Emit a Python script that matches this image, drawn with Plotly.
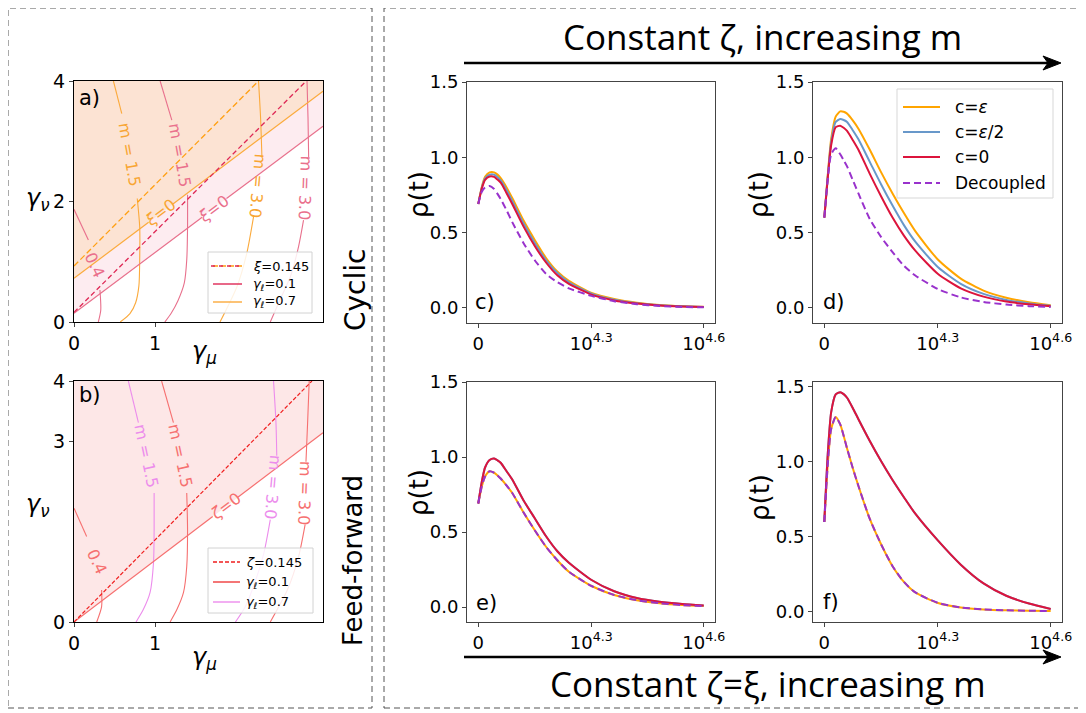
import plotly.graph_objects as go

# page body has an 8px margin: the figure is sized/positioned to compensate
OFF = 8
W, H = 1086 - OFF, 713 - OFF

# ---------------- panels c-f : rho(t) ----------------
TIME = [0, 600, 1200, 2000, 2800, 3400, 4000, 5000, 6000, 8000, 10000, 12000, 14000, 16000,
        20000, 24000, 28000, 32000, 36000, 39811]
X_TICK_VALS = [0, 19953, 39811]
X_TICK_TEXT = ["0", "10<sup>4.3</sup>", "10<sup>4.6</sup>"]
Y_TICK_VALS = [0.0, 0.5, 1.0, 1.5]
SERIES = ["c=<i>ε</i>", "c=<i>ε</i>/2", "c=0", "Decoupled"]

C_ORANGE = [0.69, 0.80, 0.87, 0.90, 0.90, 0.885, 0.86, 0.80, 0.73, 0.58, 0.45, 0.33, 0.24, 0.18, 0.10, 0.06, 0.035, 0.02, 0.012, 0.008]
C_BLUE = [0.69, 0.795, 0.86, 0.885, 0.885, 0.868, 0.845, 0.782, 0.71, 0.56, 0.43, 0.315, 0.23, 0.17, 0.095, 0.055, 0.032, 0.018, 0.011, 0.007]
C_RED = [0.69, 0.79, 0.85, 0.873, 0.87, 0.852, 0.83, 0.762, 0.69, 0.54, 0.41, 0.30, 0.215, 0.16, 0.088, 0.05, 0.03, 0.017, 0.01, 0.006]
C_DEC = [0.69, 0.77, 0.80, 0.81, 0.79, 0.757, 0.72, 0.648, 0.57, 0.43, 0.315, 0.225, 0.17, 0.13, 0.08, 0.045, 0.025, 0.013, 0.007, 0.004]

D_ORANGE = [0.60, 0.88, 1.12, 1.27, 1.305, 1.302, 1.29, 1.245, 1.19, 1.05, 0.90, 0.76, 0.63, 0.51, 0.32, 0.195, 0.115, 0.068, 0.038, 0.018]
D_BLUE = [0.60, 0.87, 1.10, 1.235, 1.255, 1.248, 1.235, 1.18, 1.12, 0.97, 0.82, 0.68, 0.55, 0.44, 0.27, 0.16, 0.093, 0.053, 0.03, 0.014]
D_RED = [0.60, 0.86, 1.08, 1.20, 1.21, 1.196, 1.175, 1.115, 1.05, 0.89, 0.74, 0.60, 0.48, 0.38, 0.225, 0.13, 0.075, 0.042, 0.024, 0.011]
D_DEC = [0.60, 0.85, 1.02, 1.06, 1.02, 0.98, 0.94, 0.85, 0.76, 0.59, 0.47, 0.37, 0.28, 0.215, 0.125, 0.07, 0.04, 0.022, 0.012, 0.006]

E_ORANGE = [0.69, 0.80, 0.87, 0.905, 0.895, 0.877, 0.855, 0.81, 0.76, 0.63, 0.51, 0.40, 0.31, 0.235, 0.14, 0.08, 0.045, 0.025, 0.013, 0.006]
E_BLUE = [0.69, 0.83, 0.93, 0.98, 0.99, 0.978, 0.96, 0.905, 0.85, 0.71, 0.59, 0.47, 0.37, 0.295, 0.18, 0.105, 0.06, 0.035, 0.02, 0.01]
E_RED = [0.69, 0.83, 0.93, 0.98, 0.99, 0.978, 0.96, 0.905, 0.85, 0.71, 0.59, 0.47, 0.37, 0.295, 0.18, 0.105, 0.06, 0.035, 0.02, 0.01]
E_DEC = [0.69, 0.80, 0.87, 0.905, 0.895, 0.877, 0.855, 0.81, 0.76, 0.63, 0.51, 0.40, 0.31, 0.235, 0.14, 0.08, 0.045, 0.025, 0.013, 0.006]

F_ORANGE = [0.60, 0.98, 1.22, 1.30, 1.25, 1.175, 1.09, 0.96, 0.84, 0.62, 0.45, 0.305, 0.20, 0.13, 0.06, 0.03, 0.017, 0.011, 0.008, 0.006]
F_BLUE = [0.60, 1.05, 1.33, 1.45, 1.465, 1.452, 1.428, 1.36, 1.285, 1.14, 1.005, 0.88, 0.765, 0.655, 0.475, 0.315, 0.19, 0.108, 0.056, 0.02]
F_RED = [0.60, 1.05, 1.33, 1.45, 1.465, 1.452, 1.428, 1.36, 1.285, 1.14, 1.005, 0.88, 0.765, 0.655, 0.475, 0.315, 0.19, 0.108, 0.056, 0.02]
F_DEC = [0.60, 0.98, 1.22, 1.30, 1.25, 1.175, 1.09, 0.96, 0.84, 0.62, 0.45, 0.305, 0.20, 0.13, 0.06, 0.03, 0.017, 0.011, 0.008, 0.006]

# ---------------- panel a (cyclic) : gamma_mu vs gamma_nu ----------------
A_FILL_PINK_MU = [0, 3.07, 3.07, 0]
A_FILL_PINK_NU = [0.144, 3.25, 4, 4]
A_FILL_ORANGE_MU = [0, 3.07, 3.07, 0]
A_FILL_ORANGE_NU = [0.725, 3.83, 4, 4]
A_XI0_PINK_MU = [0.0, 1.58, None, 1.88, 3.07]
A_XI0_PINK_NU = [0.144, 1.74, None, 2.05, 3.25]
A_XI0_ORANGE_MU = [0.0, 0.92, None, 1.22, 3.07]
A_XI0_ORANGE_NU = [0.725, 1.656, None, 1.96, 3.83]
A_XI145_ORANGE_MU = [0.0, 2.275]
A_XI145_ORANGE_NU = [0.93, 4.0]
A_XI145_PINK_MU = [0.0, 2.864]
A_XI145_PINK_NU = [0.16, 4.0]
A_M15_ORANGE_MU = [0.486, 0.589, None, 0.78, 0.81, 0.81, 0.80, 0.76, 0.69, 0.57]
A_M15_ORANGE_NU = [4.0, 3.46, None, 2.05, 1.58, 1.03, 0.60, 0.32, 0.14, 0.0]
A_M15_PINK_MU = [1.062, 1.206, None, 1.40, 1.40, 1.39, 1.36, 1.28, 1.20, 1.12]
A_M15_PINK_NU = [4.0, 3.35, None, 2.11, 1.58, 1.03, 0.65, 0.35, 0.15, 0.0]
A_M30_ORANGE_MU = [2.275, 2.30, 2.317, None, 2.214, 2.13, 2.01, 1.80]
A_M30_ORANGE_NU = [4.0, 3.4, 2.74, None, 1.75, 1.14, 0.59, 0.0]
A_M30_PINK_MU = [2.873, 2.885, 2.893, None, 2.83, 2.77, 2.667, 2.54, 2.42]
A_M30_PINK_NU = [4.0, 3.4, 2.74, None, 1.69, 1.26, 0.75, 0.37, 0.0]
A_M04_PINK_MU = [0.0, 0.177, None, 0.32, 0.33, 0.30]
A_M04_PINK_NU = [1.87, 1.36, None, 0.53, 0.2, 0.0]

# ---------------- panel b (feed-forward) ----------------
B_FILL_MU = [0, 3.07, 3.07, 0]
B_FILL_NU = [0, 3.14, 4, 4]
B_ZETA0_MU = [0.0, 1.71, None, 2.02, 3.07]
B_ZETA0_NU = [0.0, 1.75, None, 2.07, 3.14]
B_ZETA145_MU = [0.0, 2.934]
B_ZETA145_NU = [0.0, 4.0]
B_M15_VIOLET_MU = [0.67, 0.794, None, 0.988, 0.988, 0.98, 0.938, 0.856, 0.765]
B_M15_VIOLET_NU = [4.0, 3.31, None, 2.14, 1.53, 0.98, 0.49, 0.21, 0.0]
B_M15_RED_MU = [1.08, 1.226, None, 1.39, 1.40, 1.39, 1.35, 1.27, 1.185]
B_M15_RED_NU = [4.0, 3.31, None, 2.14, 1.53, 0.92, 0.49, 0.21, 0.0]
B_M30_VIOLET_MU = [2.46, 2.49, 2.50, None, 2.42, 2.34, 2.21, 2.11, 1.99]
B_M30_VIOLET_NU = [4.0, 3.31, 2.76, None, 1.70, 1.14, 0.58, 0.25, 0.0]
B_M30_RED_MU = [2.90, 2.88, 2.86, None, 2.85, 2.77, 2.63, 2.42]
B_M30_RED_NU = [4.0, 3.3, 2.66, None, 1.62, 1.09, 0.53, 0.0]
B_M04_RED_MU = [0.0, 0.156, None, 0.34, 0.34, 0.28]
B_M04_RED_NU = [1.89, 1.42, None, 0.53, 0.25, 0.0]

# colours
ORANGE = "rgb(255,165,0)"
BLUE = "rgb(104,152,202)"
RED = "rgb(220,20,60)"
PURPLE = "rgb(153,50,204)"
A_OR_LINE = "rgb(251,170,60)"
A_PK_LINE = "rgb(232,112,140)"
A_PK_DASH = "rgb(222,40,85)"
A_OR_DASH = "rgb(255,160,20)"
A_OR_TXT = "rgb(248,165,50)"
A_PK_TXT = "rgb(234,112,140)"
A_PK_FILL = "rgb(253,236,240)"
A_OR_FILL = "rgb(252,227,211)"
B_RED_LINE = "rgb(246,112,112)"
B_RED_DASH = "rgb(240,30,30)"
B_VIOLET = "rgb(236,140,236)"
B_FILL = "rgb(253,231,231)"
FONT = "DejaVu Sans"

fig = go.Figure()


def px(v):
    return (v - OFF) / W


def py(v):
    return 1 - (v - OFF) / H


def line_trace(ax, xs, ys, color, width=1.1, dash=None, shape="spline"):
    fig.add_trace(go.Scatter(x=xs, y=ys, mode="lines", connectgaps=False,
                             line=dict(color=color, width=width, dash=dash, shape=shape, smoothing=0.7),
                             xaxis="x" + ax, yaxis="y" + ax, hoverinfo="skip", showlegend=False))


def fill_trace(ax, xs, ys, color):
    fig.add_trace(go.Scatter(x=xs, y=ys, mode="lines", fill="toself", fillcolor=color,
                             line=dict(width=0, color=color), xaxis="x" + ax, yaxis="y" + ax,
                             hoverinfo="skip", showlegend=False))


# panel a
fill_trace("", A_FILL_PINK_MU, A_FILL_PINK_NU, A_PK_FILL)
fill_trace("", A_FILL_ORANGE_MU, A_FILL_ORANGE_NU, A_OR_FILL)
line_trace("", A_M15_ORANGE_MU, A_M15_ORANGE_NU, A_OR_LINE)
line_trace("", A_M30_ORANGE_MU, A_M30_ORANGE_NU, A_OR_LINE)
line_trace("", A_M15_PINK_MU, A_M15_PINK_NU, A_PK_LINE)
line_trace("", A_M30_PINK_MU, A_M30_PINK_NU, A_PK_LINE)
line_trace("", A_M04_PINK_MU, A_M04_PINK_NU, A_PK_LINE)
line_trace("", A_XI0_PINK_MU, A_XI0_PINK_NU, A_PK_LINE, 1.2, None, "linear")
line_trace("", A_XI0_ORANGE_MU, A_XI0_ORANGE_NU, A_OR_LINE, 1.2, None, "linear")
line_trace("", A_XI145_ORANGE_MU, A_XI145_ORANGE_NU, A_OR_DASH, 1.3, "6px,3px", "linear")
line_trace("", A_XI145_PINK_MU, A_XI145_PINK_NU, A_PK_DASH, 1.3, "5px,3px", "linear")

# panel b
fill_trace("2", B_FILL_MU, B_FILL_NU, B_FILL)
line_trace("2", B_M15_VIOLET_MU, B_M15_VIOLET_NU, B_VIOLET)
line_trace("2", B_M30_VIOLET_MU, B_M30_VIOLET_NU, B_VIOLET)
line_trace("2", B_M15_RED_MU, B_M15_RED_NU, B_RED_LINE)
line_trace("2", B_M30_RED_MU, B_M30_RED_NU, B_RED_LINE)
line_trace("2", B_M04_RED_MU, B_M04_RED_NU, B_RED_LINE)
line_trace("2", B_ZETA0_MU, B_ZETA0_NU, B_RED_LINE, 1.2, None, "linear")
line_trace("2", B_ZETA145_MU, B_ZETA145_NU, B_RED_DASH, 1.2, "4px,2px", "linear")

# panels c-f
for ax, vals in [("3", (C_ORANGE, C_BLUE, C_RED, C_DEC)), ("4", (D_ORANGE, D_BLUE, D_RED, D_DEC)),
                 ("5", (E_ORANGE, E_BLUE, E_RED, E_DEC)), ("6", (F_ORANGE, F_BLUE, F_RED, F_DEC))]:
    for ys, col, dash in zip(vals, (ORANGE, BLUE, RED, PURPLE), (None, None, None, "7px,4px")):
        fig.add_trace(go.Scatter(x=TIME, y=ys, mode="lines",
                                 line=dict(color=col, width=2, dash=dash, shape="spline", smoothing=0.6),
                                 xaxis="x" + ax, yaxis="y" + ax, hoverinfo="skip", showlegend=False))

# axes
boxes = [((74, 323), (81, 322)), ((74, 323), (381, 622)), ((467, 715), (82, 323)),
         ((813, 1062), (82, 323)), ((467, 715), (382, 622)), ((813, 1062), (382, 622))]
ids = ["", "2", "3", "4", "5", "6"]
layout = {}
for i, ((xl, xr), (yt, yb)) in enumerate(boxes):
    sid = ids[i]
    common = dict(showgrid=False, zeroline=False, showline=True, mirror=True, ticks="outside",
                  ticklen=4, tickwidth=1, automargin=False)
    if i < 2:
        xa = dict(common, domain=[px(xl), px(xr)], anchor="y" + sid, range=[0, 3.07],
                  tickvals=[0, 1], ticktext=["0", "1"], linecolor="black", linewidth=1.4,
                  tickfont=dict(family=FONT, size=19, color="black"))
        yv = [0, 2, 4] if i == 0 else [0, 3, 4]
        ya = dict(common, domain=[py(yb), py(yt)], anchor="x" + sid, range=[0, 4],
                  tickvals=yv, ticktext=[str(v) for v in yv], linecolor="black", linewidth=1.4,
                  tickfont=dict(family=FONT, size=19, color="black"))
    else:
        xa = dict(common, domain=[px(xl), px(xr)], anchor="y" + sid, range=[-1990, 41801],
                  tickvals=X_TICK_VALS, ticktext=X_TICK_TEXT, linecolor="#444", linewidth=1,
                  tickfont=dict(family=FONT, size=18, color="black"))
        yr = [-0.067, 1.533] if i == 5 else [-0.1, 1.5]
        ya = dict(common, domain=[py(yb), py(yt)], anchor="x" + sid, range=yr,
                  tickvals=Y_TICK_VALS, ticktext=["0.0", "0.5", "1.0", "1.5"], linecolor="#444",
                  linewidth=1, tickfont=dict(family=FONT, size=18, color="black"))
    layout["xaxis" + sid] = xa
    layout["yaxis" + sid] = ya

ann = []


def text(x, y, s, size, color="black", angle=0, xanchor="center", family=FONT, xref="paper", yref="paper"):
    if xref == "paper":
        x, y = px(x), py(y)
    ann.append(dict(x=x, y=y, xref=xref, yref=yref, text=s, showarrow=False, textangle=angle,
                    xanchor=xanchor, yanchor="middle", font=dict(family=family, size=size, color=color)))


# contour labels (data coords)
def clab(ax, x, y, s, color, angle):
    text(x, y, s, 16, color, angle, "center", FONT, "x" + ax, "y" + ax)


clab("", 0.69, 2.77, "m = 1.5", A_OR_TXT, 80)
clab("", 1.31, 2.77, "m = 1.5", A_PK_TXT, 80)
clab("", 2.265, 2.25, "m = 3.0", A_OR_TXT, 95)
clab("", 2.855, 2.22, "m = 3.0", A_PK_TXT, 92)
clab("", 0.25, 0.95, "0.4", A_PK_TXT, 65)
clab("", 1.07, 1.81, "<i>ξ</i>=0", A_OR_TXT, -37)
clab("", 1.73, 1.88, "<i>ξ</i>=0", A_PK_TXT, -37)
clab("2", 0.889, 2.76, "m = 1.5", B_VIOLET, 78)
clab("2", 1.309, 2.76, "m = 1.5", B_RED_LINE, 78)
clab("2", 2.45, 2.23, "m = 3.0", B_VIOLET, 95)
clab("2", 2.85, 2.14, "m = 3.0", B_RED_LINE, 92)
clab("2", 0.28, 1.0, "0.4", B_RED_LINE, 65)
clab("2", 1.864, 1.92, "<i>ζ</i>=0", B_RED_LINE, -37)

# panel labels
for (x, y, s) in [(89, 98, "a)"), (90, 395, "b)"), (485, 302, "c)"), (834, 302, "d)"),
                  (486, 603, "e)"), (831, 602, "f)")]:
    text(x, y, s, 21)

# axis titles
text(38, 200, "<i>γ</i><sub><i>ν</i></sub>", 24)
text(38, 505, "<i>γ</i><sub><i>ν</i></sub>", 24)
text(204, 352, "<i>γ</i><sub><i>μ</i></sub>", 24)
text(204, 658, "<i>γ</i><sub><i>μ</i></sub>", 24)
for (x, y) in [(419, 195), (759, 195), (419, 493), (760, 497)]:
    text(x, y, "ρ(t)", 26, angle=-90)

text(355, 290, "Cyclic", 28, angle=-90)
text(353, 561, "Feed-forward", 26, angle=-90)
text(762, 36, "Constant ζ, increasing m", 35, family="Open Sans")
text(768, 683, "Constant ζ=ξ, increasing m", 35, family="Open Sans")

shapes = []


def rect(x0, y0, x1, y1, color, width=1, dash=None, fill=None):
    shapes.append(dict(type="rect", xref="paper", yref="paper", x0=px(x0), x1=px(x1), y0=py(y1), y1=py(y0),
                       line=dict(color=color, width=width, dash=dash), fillcolor=fill, layer="above"))


def seg(x0, y0, x1, y1, color, width=1.5, dash=None):
    shapes.append(dict(type="line", xref="paper", yref="paper", x0=px(x0), x1=px(x1), y0=py(y0), y1=py(y1),
                       line=dict(color=color, width=width, dash=dash), layer="above"))


# dashed frames
rect(8, 8, 372, 708, "#555", 1, "6px,4px")
rect(384, 8, 1080, 708, "#555", 1, "6px,4px")

# arrows
for yy in (63, 657):
    seg(464, yy, 1050, yy, "black", 2.6)
    shapes.append(dict(type="path", xref="paper", yref="paper", layer="above",
                       path="M {:.5f},{:.5f} L {:.5f},{:.5f} L {:.5f},{:.5f} L {:.5f},{:.5f} Z".format(
                           px(1061), py(yy), px(1043), py(yy - 7), px(1048), py(yy), px(1043), py(yy + 7)),
                       fillcolor="black", line=dict(color="black", width=1)))

# legend panel a
rect(208, 252, 312, 313, "rgb(210,210,210)", 1, None, "rgba(255,255,255,0.85)")
seg(213, 266, 242, 266, A_OR_DASH, 1.6, "5px,3px")
seg(211, 266, 239, 266, A_PK_DASH, 1.6, "4px,4px")
seg(213, 284, 242, 284, A_PK_DASH, 1.4)
seg(213, 302, 242, 302, A_OR_LINE, 1.4)
text(251, 266, "<i>ξ</i>=0.145", 13, xanchor="left")
text(251, 284, "<i>γ</i><sub><i>ℓ</i></sub>=0.1", 13, xanchor="left")
text(251, 302, "<i>γ</i><sub><i>ℓ</i></sub>=0.7", 13, xanchor="left")

# legend panel b
rect(208, 548, 313, 613, "rgb(210,210,210)", 1, None, "rgba(255,255,255,0.85)")
seg(213, 562, 240, 562, B_RED_DASH, 1.4, "4px,2px")
seg(213, 582, 240, 582, "rgb(240,60,60)", 1.4)
seg(213, 602, 240, 602, B_VIOLET, 1.4)
text(244, 562, "<i>ζ</i>=0.145", 13, xanchor="left")
text(244, 582, "<i>γ</i><sub><i>ℓ</i></sub>=0.1", 13, xanchor="left")
text(244, 602, "<i>γ</i><sub><i>ℓ</i></sub>=0.7", 13, xanchor="left")

# legend panel d
rect(897, 89, 1053, 198, "rgb(215,215,215)", 1, None, "rgba(255,255,255,0.85)")
for yy, col, dash, s in zip((107, 132, 157, 183), (ORANGE, BLUE, RED, PURPLE),
                            (None, None, None, "7px,4px"), SERIES):
    seg(903, yy, 940, yy, col, 2, dash)
    text(953, yy, s, 17, xanchor="left")

fig.update_layout(template="none", width=W, height=H, margin=dict(l=0, r=0, t=0, b=0, pad=0),
                  plot_bgcolor="white", paper_bgcolor="white", showlegend=False,
                  annotations=ann, shapes=shapes, **layout)
fig.write_html("out.html")
